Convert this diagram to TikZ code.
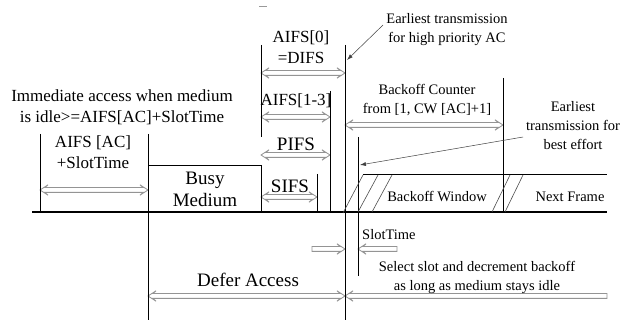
\documentclass[tikz,border=0pt]{standalone}
\usepackage{fontspec}
\setmainfont{Liberation Serif}
\usetikzlibrary{arrows.meta}
% hollow dimension arrows: x1, x2, y (x1 < x2)
\newcommand{\hDimBoth}[3]{\filldraw[harrow] (#1+5,#3-2.4) -- (#2-5,#3-2.4) -- (#2-8,#3-5.2) -- (#2,#3) -- (#2-8,#3+5.2) -- (#2-5,#3+2.4) -- (#1+5,#3+2.4) -- (#1+8,#3+5.2) -- (#1,#3) -- (#1+8,#3-5.2) -- cycle;}
\newcommand{\hDimRight}[3]{\filldraw[harrow] (#1,#3-2.4) -- (#2-5,#3-2.4) -- (#2-8,#3-5.2) -- (#2,#3) -- (#2-8,#3+5.2) -- (#2-5,#3+2.4) -- (#1,#3+2.4) -- cycle;}
\newcommand{\hDimLeft}[3]{\filldraw[harrow] (#2,#3-2.4) -- (#1+5,#3-2.4) -- (#1+8,#3-5.2) -- (#1,#3) -- (#1+8,#3+5.2) -- (#1+5,#3+2.4) -- (#2,#3+2.4) -- cycle;}
\begin{document}
\begin{tikzpicture}[x=1pt,y=-1pt,
  vline/.style={line width=1pt},
  baseln/.style={line width=2.6pt},
  hatch/.style={line width=0.6pt, black!70},
  harrow/.style={draw=black!42, fill=white, line width=0.8pt, line join=miter},
  big/.style={font=\fontsize{19}{22}\selectfont, align=center, inner sep=0pt},
  mid/.style={font=\fontsize{17}{21}\selectfont, align=center, inner sep=0pt},
  small/.style={font=\fontsize{14.5}{19}\selectfont, align=center, inner sep=0pt},
  pointer/.style={line width=0.5pt, black!75, -{Latex[length=6pt,width=4pt]}}
]
\fill[white] (0,0) rectangle (632,320);
\useasboundingbox (0,0) rectangle (632,320);

% stray mark
\draw[black!40, line width=0.8pt] (259,6) -- (267,6);

% dimension arrows (drawn first, lines on top)
\hDimBoth{40}{148}{190}
\hDimBoth{261}{345}{73}
\hDimBoth{261}{330}{117}
\hDimBoth{261}{330}{155}
\hDimBoth{261}{317}{197}
\hDimBoth{345}{503}{125}
\hDimBoth{148}{345}{296}
\hDimRight{312}{345}{249}
\hDimLeft{358}{397}{249}
\hDimLeft{345}{607}{296}

% baseline
\coordinate (bl) at (32,212);
\coordinate (br) at (607,212);
\draw[baseln] (bl) -- (br);

% vertical lines
\coordinate (v1t) at (40,134);   \coordinate (v1b) at (40,212);
\coordinate (v2t) at (148,134);  \coordinate (v2b) at (148,320);
\coordinate (v3t) at (261,45);   \coordinate (v3b) at (261,137);
\coordinate (v4t) at (317,174);  \coordinate (v4b) at (317,212);
\coordinate (v5t) at (330,91);   \coordinate (v5b) at (330,212);
\coordinate (v6t) at (345,45);   \coordinate (v6b) at (345,320);
\coordinate (v7t) at (358,137);  \coordinate (v7b) at (358,276);
\coordinate (v8t) at (503,78);   \coordinate (v8b) at (503,212);
\draw[vline] (v1t) -- (v1b);
\draw[vline] (v2t) -- (v2b);
\draw[vline] (v3t) -- (v3b);
\draw[vline] (v4t) -- (v4b);
\draw[vline] (v5t) -- (v5b);
\draw[vline] (v6t) -- (v6b);
\draw[vline] (v7t) -- (v7b);
\draw[vline] (v8t) -- (v8b);

% busy medium box
\coordinate (bm1) at (148,166);
\coordinate (bm2) at (261,166);
\coordinate (bm3) at (261,212);
\draw[vline] (bm1) -- (bm2) -- (bm3);

% backoff window top line
\coordinate (bw1) at (363,175);
\coordinate (bw2) at (607,175);
\draw[vline] (bw1) -- (bw2);

% hatches
\draw[hatch] (343,213) -- (363,175);
\draw[hatch] (358,212) -- (378,175);
\draw[hatch] (372,212) -- (392,175);
\draw[hatch] (492,212) -- (510,175);
\draw[hatch] (505,212) -- (523,175);

% texts
\node[mid] (imm) at (122,107) {Immediate access when medium\\is idle>=AIFS[AC]+SlotTime};
\node[mid] (aac) at (93,152) {AIFS [AC]\\+SlotTime};
\node[big] (busy) at (205,189) {Busy\\Medium};
\node[mid] (a0) at (301,47) {AIFS[0]\\=DIFS};
\node[mid] (a13) at (296,101) {AIFS[1-3]};
\node[big] (pifs) at (296,144) {PIFS};
\node[big] (sifs) at (290,186) {SIFS};
\node[small] (ehp) at (447,30) {Earliest transmission\\for high priority AC};
\node[small] (boc) at (427,100) {Backoff Counter\\from [1, CW [AC]+1]};
\node[small] (ebe) at (573,126) {Earliest\\transmission for\\best effort};
\node[small] (bow) at (437,197) {Backoff Window};
\node[small] (nf) at (570,197) {Next Frame};
\node[small, anchor=west] (slt) at (362,235) {SlotTime};
\node[small] (sel) at (477,277) {Select slot and decrement backoff\\as long as medium stays idle};
\node[big] (defer) at (248,280) {Defer Access};

% pointers
\coordinate (p1s) at (383,25);
\coordinate (p1e) at (347,60);
\coordinate (p2s) at (523,137);
\coordinate (p2e) at (360,165);
\draw[pointer] (p1s) -- (p1e);
\draw[pointer] (p2s) -- (p2e);
\end{tikzpicture}
\end{document}
